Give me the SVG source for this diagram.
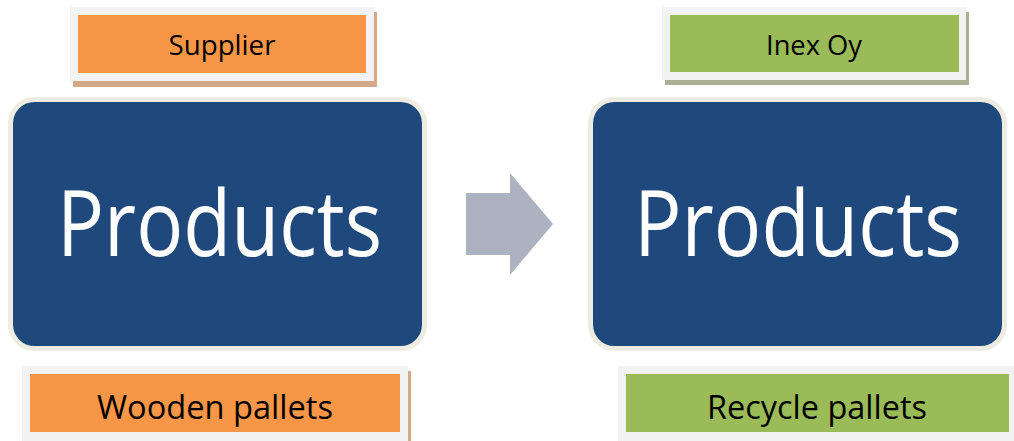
<svg xmlns="http://www.w3.org/2000/svg" width="1014" height="441" viewBox="0 0 1014 441">
  <style>
    .frame { fill: #f2f2f2; }
    .orange { fill: #f79646; }
    .green { fill: #9bbb59; }
    .shadowO { fill: #d4a98a; }
    .shadowG { fill: #aab092; }
    .big { fill: #1f497d; stroke: #eeece1; stroke-width: 5; }
    .lbl { font-family: "Open Sans", "Liberation Sans", sans-serif; fill: #000000; text-anchor: middle; }
    .big-lbl { font-family: "Open Sans", "Liberation Sans", sans-serif; fill: #ffffff; text-anchor: middle; font-size: 91px; }
  </style>
  <rect width="1014" height="441" fill="#ffffff"/>

  <g id="supplier">
    <rect class="shadowO" x="73" y="12" width="304" height="75"/>
    <rect class="frame" x="70" y="7" width="304" height="74"/>
    <rect class="orange" x="78" y="15" width="288" height="58"/>
    <text class="lbl" x="222" y="55" font-size="28" textLength="107" lengthAdjust="spacingAndGlyphs">Supplier</text>
  </g>

  <g id="products-left">
    <rect class="big" x="10.5" y="99.5" width="414" height="249" rx="24"/>
    <text class="big-lbl" x="219.5" y="256" textLength="325" lengthAdjust="spacingAndGlyphs">Products</text>
  </g>

  <g id="wooden-pallets">
    <rect class="shadowO" x="25" y="371" width="386" height="75"/>
    <rect class="frame" x="22" y="366" width="386" height="75"/>
    <rect class="orange" x="30" y="374" width="370" height="58"/>
    <text class="lbl" x="215" y="419" font-size="33" textLength="236" lengthAdjust="spacingAndGlyphs">Wooden pallets</text>
  </g>

  <g id="inex-oy">
    <rect class="shadowG" x="665" y="12" width="304" height="73"/>
    <rect class="frame" x="662" y="7" width="304" height="73"/>
    <rect class="green" x="670" y="15" width="289" height="57"/>
    <text class="lbl" x="814" y="55" font-size="28" textLength="96" lengthAdjust="spacingAndGlyphs">Inex Oy</text>
  </g>

  <g id="products-right">
    <rect class="big" x="590.5" y="99.5" width="414" height="249" rx="24"/>
    <text class="big-lbl" x="798" y="256" textLength="328" lengthAdjust="spacingAndGlyphs">Products</text>
  </g>

  <g id="recycle-pallets">
    <rect class="shadowG" x="621" y="371" width="396" height="75"/>
    <rect class="frame" x="618" y="366" width="396" height="75"/>
    <rect class="green" x="626" y="374" width="383" height="58"/>
    <text class="lbl" x="817" y="419" font-size="33" textLength="220" lengthAdjust="spacingAndGlyphs">Recycle pallets</text>
  </g>

  <g id="connectors">
    <polygon points="466,193 510,193 510,173 553,224 510,275 510,255 466,255" fill="#adb2c0"/>
  </g>
</svg>
